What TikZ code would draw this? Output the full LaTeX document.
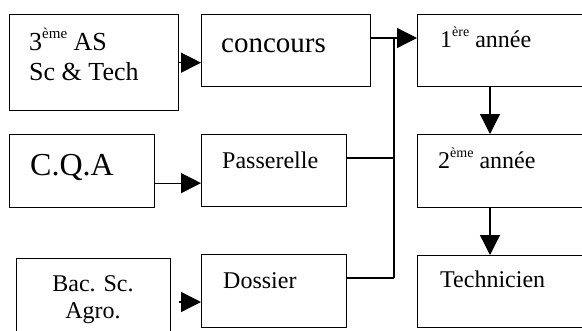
\documentclass[tikz,border=0pt]{standalone}
\usepackage{fontspec}
\setmainfont{Liberation Serif}
\usetikzlibrary{arrows.meta}
\newcommand\supx[1]{\raisebox{11pt}{\fontsize{14}{14}\selectfont #1}}
\newcommand\supy[1]{\raisebox{12pt}{\fontsize{15}{15}\selectfont #1}}
\tikzset{
  box/.style={draw, line width=1.3pt, rectangle, inner sep=0pt, anchor=north west},
  arr/.style={line width=1.3pt, -{Triangle[length=20pt,width=20pt]}},
  ln/.style={line width=1.3pt},
  txt/.style={anchor=base west, inner sep=0pt, font=\fontsize{24}{28}\selectfont},
  ctxt/.style={anchor=base, inner sep=0pt, font=\fontsize{24}{28}\selectfont}
}
\begin{document}
\begin{tikzpicture}[x=1pt,y=-1pt]
\useasboundingbox (0,0) rectangle (582,330);
\clip (0,0) rectangle (582,330);
\fill[white] (0,0) rectangle (582,330);
% boxes
\node[box, minimum width=169pt, minimum height=96pt] (a) at (9,14) {};
\node[box, minimum width=169pt, minimum height=72pt] (conc) at (201,14) {};
\node[box, minimum width=190pt, minimum height=72pt] (y1) at (417,14) {};
\node[box, minimum width=145pt, minimum height=73pt] (cqa) at (9,134) {};
\node[box, minimum width=145pt, minimum height=72pt] (pas) at (201,134) {};
\node[box, minimum width=190pt, minimum height=73pt] (y2) at (417,134) {};
\node[box, minimum width=154pt, minimum height=90pt] (bac) at (16,258) {};
\node[box, minimum width=145pt, minimum height=73pt] (dos) at (201,254) {};
\node[box, minimum width=190pt, minimum height=72pt] (tech) at (417,255) {};
% texts
\node[txt, font=\fontsize{26}{30}\selectfont] (ta1) at (29,50) {3\supy{ème} AS};
\node[txt, font=\fontsize{26}{30}\selectfont] (ta2) at (29,80) {Sc \& Tech};
\node[txt, font=\fontsize{29}{32}\selectfont] (tconc) at (221,52) {concours};
\node[txt] (ty1) at (440,47) {1\supx{ère} année};
\node[txt, font=\fontsize{32}{36}\selectfont] (tcqa) at (30,175) {C.Q.A};
\node[txt] (tpas) at (222,168) {Passerelle};
\node[txt] (ty2) at (438,168) {2\supx{ème} année};
\node[txt] (ttech) at (440,287) {Technicien};
\node[ctxt] (tbac1) at (93,291) {Bac. Sc.};
\node[ctxt] (tbac2) at (93,318) {Agro.};
\node[txt] (tdos) at (223,288) {Dossier};
% connectors
\coordinate (jt) at (394,38);
\coordinate (jb) at (394,278);
\draw[arr] (a.east) -- (a.east -| conc.west);
\draw[arr] ([yshift=-12pt]cqa.east) -- ([yshift=-12pt]cqa.east -| pas.west);
\draw[arr, shorten <=8pt] (bac.east |- 0,302) -- (pas.west |- 0,302);
\draw[arr] (conc.east |- jt) -- (y1.west |- jt);
\draw[ln] (jt) -- (jb);
\draw[ln] (pas.east |- 0,158) -- (jt |- 0,158);
\draw[ln] (dos.east |- jb) -- (jb);
\draw[arr] ([xshift=73pt]y1.south west) -- ([xshift=73pt]y2.north west);
\draw[arr] ([xshift=73pt]y2.south west) -- ([xshift=73pt]tech.north west);
\end{tikzpicture}
\end{document}
